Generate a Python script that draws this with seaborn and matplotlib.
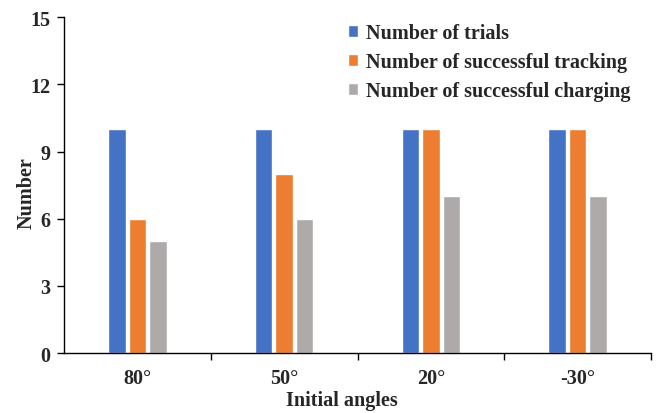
import matplotlib
matplotlib.use("Agg")
import matplotlib.pyplot as plt
import seaborn as sns
import pandas as pd

angles = ["80°", "50°", "20°", "-30°"]
trials = [10, 10, 10, 10]
tracking = [6, 8, 10, 10]
charging = [5, 6, 7, 7]
series_names = ["Number of trials", "Number of successful tracking",
                "Number of successful charging"]
colors = ["#4472C4", "#ED7D31", "#AEAAAA"]

rows = []
for name, vals in zip(series_names, [trials, tracking, charging]):
    for a, v in zip(angles, vals):
        rows.append({"angle": a, "series": name, "value": v})
df = pd.DataFrame(rows)

sns.set_style("white")
plt.rcParams["font.family"] = ["Liberation Serif", "DejaVu Serif"]
plt.rcParams["font.weight"] = "bold"

FS = 14.5

fig = plt.figure(figsize=(6.56, 4.14), dpi=100)
ax = fig.add_axes([0.0976, 0.1449, 0.8948, 0.8109])

sns.barplot(data=df, x="angle", y="value", hue="series", order=angles,
            hue_order=series_names, palette=colors, width=0.42, gap=0.15,
            errorbar=None, ax=ax, saturation=1, legend=True)

ax.set_ylim(0, 15)
ax.set_yticks(range(0, 16, 3))
ax.set_xlim(-0.5, len(angles) - 0.5)
ax.set_xticks(range(len(angles)))
ax.set_xticklabels(angles)
ax.set_xticks([i + 0.5 for i in range(len(angles))], minor=True)
ax.tick_params(axis="x", which="major", length=0, pad=11, labelsize=FS)
ax.tick_params(axis="x", which="minor", length=5, width=1, color="black",
               direction="out", bottom=True)
ax.tick_params(axis="y", length=5, width=1, color="black", direction="out",
               left=True, labelsize=FS, pad=5)
for lab in ax.get_xticklabels() + ax.get_yticklabels():
    lab.set_fontweight("bold")

for side in ["top", "right"]:
    ax.spines[side].set_visible(False)
for side in ["left", "bottom"]:
    ax.spines[side].set_color("black")
    ax.spines[side].set_linewidth(1)

ax.set_xlabel("Initial angles", fontsize=FS, fontweight="bold")
ax.set_ylabel("Number", fontsize=FS, fontweight="bold")
ax.xaxis.set_label_coords(0.473, -0.11)
ax.yaxis.set_label_coords(-0.047, 0.478)

handles, labels = ax.get_legend_handles_labels()
ax.legend(handles, labels, loc="upper left", bbox_to_anchor=(0.503, 0.986),
          bbox_transform=fig.transFigure, frameon=False,
          handlelength=0.5, handleheight=0.5, handletextpad=0.4,
          labelspacing=0.45, prop={"weight": "bold", "size": FS})

fig.savefig("out.png", dpi=100)
